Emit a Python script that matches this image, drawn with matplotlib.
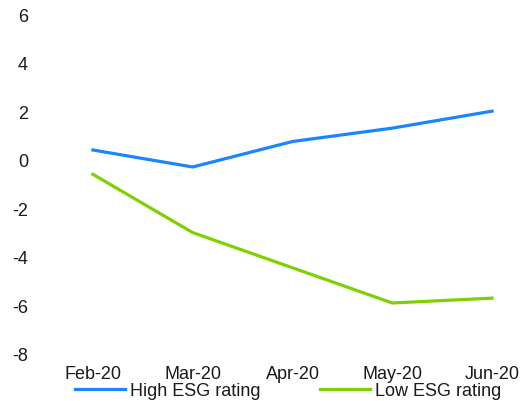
import matplotlib.pyplot as plt

plt.rcParams['font.family'] = ['Liberation Sans', 'DejaVu Sans']
plt.rcParams['axes.unicode_minus'] = False

months = ["Feb-20", "Mar-20", "Apr-20", "May-20", "Jun-20"]
high_esg = [0.4, -0.3, 0.75, 1.3, 2.0]
low_esg = [-0.6, -3.0, -4.45, -5.9, -5.7]
y_ticks = [6, 4, 2, 0, -2, -4, -6, -8]

fig = plt.figure(figsize=(5.24, 4.02), dpi=100)
W, H = 524, 402
ax = fig.add_axes([35 / W, (H - 355) / H, (W - 35) / W, (355 - 15) / H])

x = list(range(len(months)))
ax.plot(x, high_esg, color='#1a85ff', linewidth=2.3, label="High ESG rating")
ax.plot(x, low_esg, color='#7fd000', linewidth=2.3, label="Low ESG rating")

ax.set_xlim(-0.58, 4.32)
ax.set_ylim(-8, 6)
ax.set_xticks(x)
ax.set_xticklabels(months)
ax.set_yticks(y_ticks)
ax.tick_params(axis='both', length=0, labelsize=13, colors='#1a1a1a')
ax.tick_params(axis='x', pad=8)
ax.tick_params(axis='y', pad=5)
for s in ax.spines.values():
    s.set_visible(False)

fig.legend(loc='center', bbox_to_anchor=(288 / W, (H - 392) / H), ncol=2,
           frameon=False, fontsize=13, handlelength=2.8, handletextpad=0.25,
           columnspacing=3.3, borderpad=0, labelcolor='#1a1a1a')

fig.savefig("out.png", dpi=100)
